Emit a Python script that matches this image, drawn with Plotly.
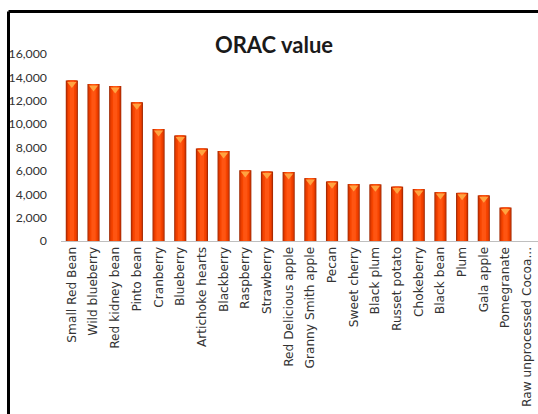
import plotly.graph_objects as go

categories = ["Small Red Bean", "Wild blueberry", "Red kidney bean", "Pinto bean",
              "Cranberry", "Blueberry", "Artichoke hearts", "Blackberry", "Raspberry",
              "Strawberry", "Red Delicious apple", "Granny Smith apple", "Pecan",
              "Sweet cherry", "Black plum", "Russet potato", "Chokeberry", "Black bean",
              "Plum", "Gala apple", "Pomegranate", "Raw unprocessed Cocoa..."]
orac_values = [13727, 13427, 13259, 11864, 9584, 9019, 7904, 7701, 6058, 5938,
               5900, 5381, 5095, 4873, 4844, 4649, 4444, 4181, 4118, 3903, 2860, None]
y_ticks = [0, 2000, 4000, 6000, 8000, 10000, 12000, 14000, 16000]
y_tick_labels = ["0", "2,000", "4,000", "6,000", "8,000", "10,000", "12,000", "14,000", "16,000"]

W, H = 538, 414
L, R, T, B = 61, 0, 54, 173

fig = go.Figure()
layers = [(0.56, "#a02800"), (0.48, "#dc3800"), (0.36, "#f64400"), (0.2, "#ff5512")]
for w, c in layers:
    fig.add_trace(go.Bar(x=categories, y=orac_values, width=w, marker=dict(color=c, line=dict(width=0)),
                         hoverinfo="skip", showlegend=False))

cap_y = [v - 290 if v is not None else None for v in orac_values]
fig.add_trace(go.Scatter(x=categories, y=cap_y, mode="markers",
                         marker=dict(symbol="triangle-down", size=8, color="#ffa340", line=dict(width=0)),
                         hoverinfo="skip", showlegend=False, cliponaxis=False))

pw = W - L - R
ph = H - T - B
def px_x(p):
    return (p - L) / pw
def px_y(p):
    return (H - B - p) / ph

fig.add_shape(type="line", xref="paper", yref="paper", x0=px_x(8.5), x1=px_x(560),
              y0=px_y(11.5), y1=px_y(11.5), line=dict(color="black", width=3))
fig.add_shape(type="line", xref="paper", yref="paper", x0=px_x(8.5), x1=px_x(8.5),
              y0=px_y(11.5), y1=px_y(440), line=dict(color="black", width=3))

fig.update_layout(
    width=W, height=H,
    margin=dict(l=L, r=R, t=T, b=B, autoexpand=False),
    barmode="overlay",
    paper_bgcolor="white", plot_bgcolor="white",
    title=dict(text="<b>ORAC value</b>", x=px_x(274), xref="paper", xanchor="center",
               y=1 - 45 / H, yref="container", yanchor="middle",
               font=dict(family="Lato", size=22, color="#1a1a1a")),
    showlegend=False,
)
fig.update_xaxes(range=[-0.5, len(categories) - 0.5],
                 tickangle=-90, tickfont=dict(family="DejaVu Sans", size=12.2, color="#333333"),
                 showline=True, linecolor="#bfbfbf", linewidth=1, ticks="", showgrid=False,
                 automargin=False, fixedrange=True)
fig.update_yaxes(range=[0, 16000], tickvals=y_ticks, ticktext=y_tick_labels,
                 tickfont=dict(family="Lato", size=12.3, color="#333333"),
                 showline=False, showgrid=False, zeroline=False, ticks="", ticklabelstandoff=13,
                 automargin=False, fixedrange=True)

fig.write_html("out.html", config={"displayModeBar": False})
